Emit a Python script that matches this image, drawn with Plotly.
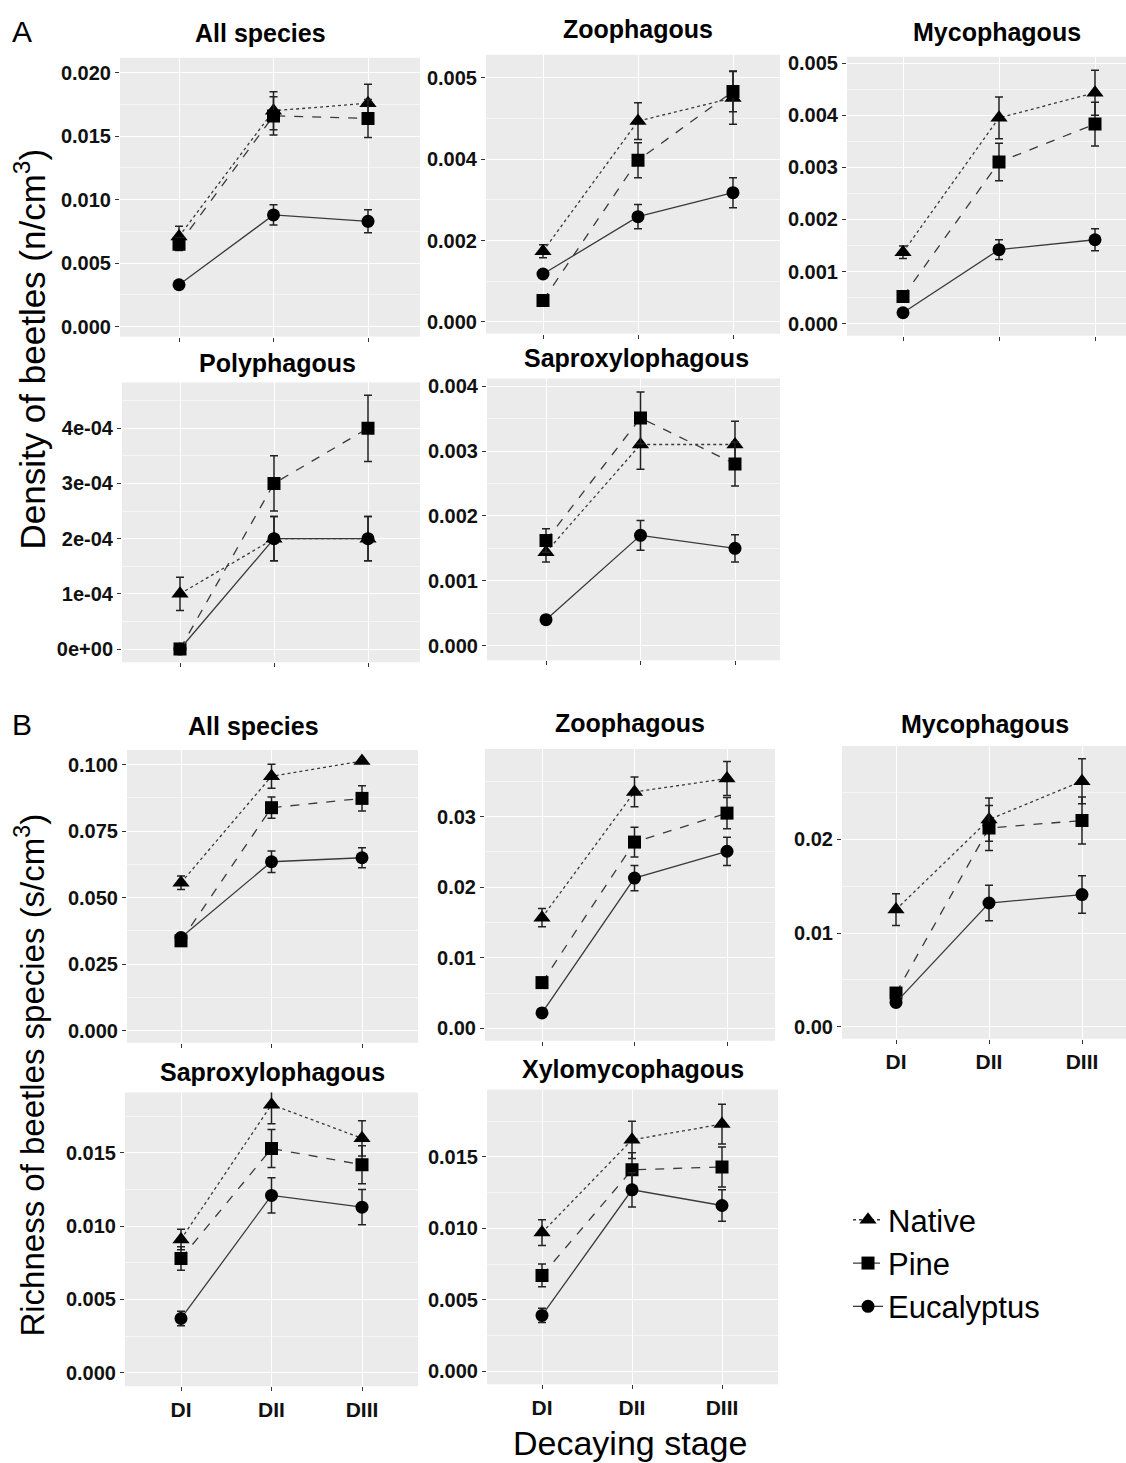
import plotly.graph_objects as go

W, H = 1126, 1463

stages = ["DI", "DII", "DIII"]
series_names = ["Native", "Pine", "Eucalyptus"]

# ---------------- A: density of beetles (n/cm3) ----------------
dA_all_native = [0.0071, 0.0170, 0.0176]
dA_all_native_err = [0.0008, 0.0015, 0.0015]
dA_all_pine = [0.0065, 0.0166, 0.0164]
dA_all_pine_err = [0.0005, 0.0015, 0.0015]
dA_all_euc = [0.0033, 0.0088, 0.0083]
dA_all_euc_err = [0.0002, 0.0008, 0.0009]

dA_zoo_native = [0.00174, 0.00494, 0.00551]
dA_zoo_native_err = [0.00016, 0.00045, 0.00065]
dA_zoo_pine = [0.00053, 0.00398, 0.00567]
dA_zoo_pine_err = [0.00003, 0.00043, 0.00050]
dA_zoo_euc = [0.00118, 0.00259, 0.00318]
dA_zoo_euc_err = [0.00006, 0.00030, 0.00037]

dA_myc_native = [0.00137, 0.00395, 0.00443]
dA_myc_native_err = [0.00012, 0.00040, 0.00043]
dA_myc_pine = [0.00052, 0.00310, 0.00383]
dA_myc_pine_err = [0.00004, 0.00036, 0.00042]
dA_myc_euc = [0.00021, 0.00142, 0.00161]
dA_myc_euc_err = [0.00003, 0.00019, 0.00021]

dA_pol_native = [1.0e-4, 2.0e-4, 2.0e-4]
dA_pol_native_err = [0.3e-4, 0.4e-4, 0.4e-4]
dA_pol_pine = [0.0, 3.0e-4, 4.0e-4]
dA_pol_pine_err = [0.0, 0.5e-4, 0.6e-4]
dA_pol_euc = [0.0, 2.0e-4, 2.0e-4]
dA_pol_euc_err = [0.0, 0.4e-4, 0.4e-4]

dA_sap_native = [0.00144, 0.00310, 0.00310]
dA_sap_native_err = [0.00015, 0.00038, 0.00036]
dA_sap_pine = [0.00162, 0.00351, 0.00280]
dA_sap_pine_err = [0.00018, 0.00040, 0.00034]
dA_sap_euc = [0.00040, 0.00170, 0.00150]
dA_sap_euc_err = [0.00003, 0.00023, 0.00021]

# ---------------- B: richness of beetle species (s/cm3) ----------------
rB_all_native = [0.0556, 0.0956, 0.1013]
rB_all_native_err = [0.0025, 0.0045, 0.0005]
rB_all_pine = [0.0338, 0.0838, 0.0873]
rB_all_pine_err = [0.0020, 0.0040, 0.0047]
rB_all_euc = [0.0350, 0.0635, 0.0650]
rB_all_euc_err = [0.0015, 0.0040, 0.0038]

rB_zoo_native = [0.0157, 0.0335, 0.0354]
rB_zoo_native_err = [0.0013, 0.0021, 0.0024]
rB_zoo_pine = [0.0065, 0.0264, 0.0305]
rB_zoo_pine_err = [0.0004, 0.0021, 0.0022]
rB_zoo_euc = [0.0022, 0.0213, 0.0251]
rB_zoo_euc_err = [0.0003, 0.0018, 0.0020]

rB_myc_native = [0.0125, 0.0221, 0.0262]
rB_myc_native_err = [0.0017, 0.0023, 0.0024]
rB_myc_pine = [0.0036, 0.0212, 0.0220]
rB_myc_pine_err = [0.0004, 0.0024, 0.0025]
rB_myc_euc = [0.0026, 0.0132, 0.0141]
rB_myc_euc_err = [0.0005, 0.0019, 0.0020]

rB_sap_native = [0.0091, 0.0183, 0.0160]
rB_sap_native_err = [0.0007, 0.0013, 0.0012]
rB_sap_pine = [0.0078, 0.0153, 0.0142]
rB_sap_pine_err = [0.0008, 0.0013, 0.0013]
rB_sap_euc = [0.0037, 0.0121, 0.0113]
rB_sap_euc_err = [0.0005, 0.0012, 0.0012]

rB_xyl_native = [0.0097, 0.0162, 0.0173]
rB_xyl_native_err = [0.0009, 0.0013, 0.0014]
rB_xyl_pine = [0.0067, 0.0141, 0.0143]
rB_xyl_pine_err = [0.0008, 0.0012, 0.0014]
rB_xyl_euc = [0.0039, 0.0127, 0.0116]
rB_xyl_euc_err = [0.0005, 0.0012, 0.0011]

# y tick values / labels
tv_A_all = [0, 0.005, 0.010, 0.015, 0.020]
tt_A_all = ["0.000", "0.005", "0.010", "0.015", "0.020"]
tv_A_zoo = [0, 0.002, 0.004, 0.006]
tt_A_zoo = ["0.000", "0.002", "0.004", "0.005"]
tv_A_myc = [0, 0.001, 0.002, 0.003, 0.004, 0.005]
tt_A_myc = ["0.000", "0.001", "0.002", "0.003", "0.004", "0.005"]
tv_A_pol = [0, 1e-4, 2e-4, 3e-4, 4e-4]
tt_A_pol = ["0e+00", "1e-04", "2e-04", "3e-04", "4e-04"]
tv_A_sap = [0, 0.001, 0.002, 0.003, 0.004]
tt_A_sap = ["0.000", "0.001", "0.002", "0.003", "0.004"]
tv_B_all = [0, 0.025, 0.050, 0.075, 0.100]
tt_B_all = ["0.000", "0.025", "0.050", "0.075", "0.100"]
tv_B_zoo = [0, 0.01, 0.02, 0.03]
tt_B_zoo = ["0.00", "0.01", "0.02", "0.03"]
tv_B_myc = [0, 0.01, 0.02]
tt_B_myc = ["0.00", "0.01", "0.02"]
tv_B_sap = [0, 0.005, 0.010, 0.015]
tt_B_sap = ["0.000", "0.005", "0.010", "0.015"]
tv_B_xyl = [0, 0.005, 0.010, 0.015]
tt_B_xyl = ["0.000", "0.005", "0.010", "0.015"]

titles = ["All species", "Zoophagous", "Mycophagous", "Polyphagous", "Saproxylophagous",
          "All species", "Zoophagous", "Mycophagous", "Saproxylophagous", "Xylomycophagous"]

panels_data = [
    ((dA_all_native, dA_all_native_err), (dA_all_pine, dA_all_pine_err), (dA_all_euc, dA_all_euc_err)),
    ((dA_zoo_native, dA_zoo_native_err), (dA_zoo_pine, dA_zoo_pine_err), (dA_zoo_euc, dA_zoo_euc_err)),
    ((dA_myc_native, dA_myc_native_err), (dA_myc_pine, dA_myc_pine_err), (dA_myc_euc, dA_myc_euc_err)),
    ((dA_pol_native, dA_pol_native_err), (dA_pol_pine, dA_pol_pine_err), (dA_pol_euc, dA_pol_euc_err)),
    ((dA_sap_native, dA_sap_native_err), (dA_sap_pine, dA_sap_pine_err), (dA_sap_euc, dA_sap_euc_err)),
    ((rB_all_native, rB_all_native_err), (rB_all_pine, rB_all_pine_err), (rB_all_euc, rB_all_euc_err)),
    ((rB_zoo_native, rB_zoo_native_err), (rB_zoo_pine, rB_zoo_pine_err), (rB_zoo_euc, rB_zoo_euc_err)),
    ((rB_myc_native, rB_myc_native_err), (rB_myc_pine, rB_myc_pine_err), (rB_myc_euc, rB_myc_euc_err)),
    ((rB_sap_native, rB_sap_native_err), (rB_sap_pine, rB_sap_pine_err), (rB_sap_euc, rB_sap_euc_err)),
    ((rB_xyl_native, rB_xyl_native_err), (rB_xyl_pine, rB_xyl_pine_err), (rB_xyl_euc, rB_xyl_euc_err)),
]

ticks = [(tv_A_all, tt_A_all), (tv_A_zoo, tt_A_zoo), (tv_A_myc, tt_A_myc), (tv_A_pol, tt_A_pol),
         (tv_A_sap, tt_A_sap), (tv_B_all, tt_B_all), (tv_B_zoo, tt_B_zoo), (tv_B_myc, tt_B_myc),
         (tv_B_sap, tt_B_sap), (tv_B_xyl, tt_B_xyl)]

# ---------------- layout geometry (pixels) ----------------
# left, right, top, bottom of panel, x of DI, x of DIII, y pixel of 0, y pixel of top tick
geom = [
    (120, 420, 53, 333, 179, 368, 323.0, 68.0),
    (486, 780, 50, 330, 543, 733, 318.3, 73.3),
    (847, 1126, 52, 332, 903, 1095, 320.0, 58.3),
    (122, 420, 379, 660, 180, 368, 646.7, 425.0),
    (487, 780, 375, 658, 546, 735, 643.3, 382.7),
    (127, 418, 748, 1042, 181, 362, 1030.0, 762.7),
    (485, 775, 747, 1040, 542, 727, 1027.7, 815.0),
    (842, 1126, 744, 1038, 896, 1082, 1026.0, 837.7),
    (125, 418, 1092, 1387, 181, 362, 1373.3, 1152.7),
    (487, 778, 1089, 1385, 542, 722, 1371.7, 1156.7),
]
minor_steps = [0.0025, 0.001, 0.0005, 0.5e-4, 0.0005, 0.0125, 0.005, 0.005, 0.0025, 0.0025]
show_xlabels = [False, False, False, False, False, False, False, True, True, True]
title_pos = [(260, 28), (638, 24), (997, 27), (277, 359), (636, 354),
             (253, 724), (630, 721), (985, 722), (272, 1071), (633, 1068)]

symbols = ["triangle-up", "square", "circle"]
msizes = [15, 13, 13]
dashes = ["dot", "dash", "solid"]

FONT = "Liberation Sans, Arial, sans-serif"

fig = go.Figure()
layout = {}
annotations = []

for i, (pdata, (tv, tt), g) in enumerate(zip(panels_data, ticks, geom)):
    left, right, top, bottom, xd1, xd3, p0, ptop = g
    n = i + 1
    xa = "xaxis" if n == 1 else f"xaxis{n}"
    ya = "yaxis" if n == 1 else f"yaxis{n}"
    xref = "x" if n == 1 else f"x{n}"
    yref = "y" if n == 1 else f"y{n}"
    s = (xd3 - xd1) / 2.0
    xr = [-(xd1 - left) / s, 2 + (right - xd3) / s]
    vtop = tv[-1]
    scale = (p0 - ptop) / vtop
    yr = [-(bottom - p0) / scale, (p0 - top) / scale]

    layout[xa] = dict(
        domain=[left / W, right / W], anchor=yref, type="category",
        categoryorder="array", categoryarray=stages, range=xr,
        showgrid=True, gridcolor="white", gridwidth=1.2, zeroline=False,
        ticks="outside", ticklen=4, tickcolor="#333333", tickwidth=1,
        showticklabels=show_xlabels[i],
        tickfont=dict(family=FONT, size=21, color="#111111", weight="bold"),
        showline=False, fixedrange=True,
    )
    layout[ya] = dict(
        domain=[1 - bottom / H, 1 - top / H], anchor=xref, range=yr,
        tickmode="array", tickvals=tv, ticktext=tt,
        showgrid=True, gridcolor="white", gridwidth=1.2, zeroline=False,
        ticks="outside", ticklen=4, tickcolor="#333333", tickwidth=1,
        tickfont=dict(family=FONT, size=20, color="#111111", weight="bold"),
        minor=dict(tickmode="linear", tick0=0, dtick=minor_steps[i], showgrid=True,
                   gridcolor="#f6f6f6", gridwidth=0.6),
        showline=False, fixedrange=True,
    )
    for k, (vals, errs) in enumerate(pdata):
        fig.add_trace(go.Scatter(
            x=stages, y=vals, xaxis=xref, yaxis=yref,
            mode="lines+markers", name=series_names[k],
            legendgroup=series_names[k], showlegend=(i == 0),
            line=dict(color="#3a3a3a", width=1.3, dash=dashes[k]),
            marker=dict(symbol=symbols[k], size=msizes[k], color="black"),
            error_y=dict(type="data", array=errs, visible=True,
                         color="#222222", thickness=1.5, width=4),
        ))
    tx, ty = title_pos[i]
    annotations.append(dict(text=f"<b>{titles[i]}</b>", x=tx / W, y=1 - ty / H,
                            xref="paper", yref="paper", xanchor="center", yanchor="middle",
                            showarrow=False, font=dict(family=FONT, size=25, color="black")))

# panel letters and axis titles
annotations += [
    dict(text="A", x=22 / W, y=1 - 27 / H, xref="paper", yref="paper", showarrow=False,
         xanchor="center", yanchor="middle", font=dict(family=FONT, size=30, color="black")),
    dict(text="B", x=22 / W, y=1 - 722 / H, xref="paper", yref="paper", showarrow=False,
         xanchor="center", yanchor="middle", font=dict(family=FONT, size=30, color="black")),
    dict(text="Density of beetles (n/cm<sup>3</sup>)", x=30 / W, y=1 - 346 / H,
         xref="paper", yref="paper", showarrow=False, textangle=-90,
         xanchor="center", yanchor="middle", font=dict(family=FONT, size=35, color="black")),
    dict(text="Richness of beetles species (s/cm<sup>3</sup>)", x=30 / W, y=1 - 1075 / H,
         xref="paper", yref="paper", showarrow=False, textangle=-90,
         xanchor="center", yanchor="middle", font=dict(family=FONT, size=33, color="black")),
    dict(text="Decaying stage", x=630 / W, y=1 - 1444 / H, xref="paper", yref="paper",
         showarrow=False, xanchor="center", yanchor="middle",
         font=dict(family=FONT, size=34, color="black")),
]

fig.update_layout(
    width=W, height=H, autosize=False,
    margin=dict(l=0, r=0, t=0, b=0, pad=0),
    paper_bgcolor="white", plot_bgcolor="#EBEBEB",
    font=dict(family=FONT, color="black"),
    annotations=annotations,
    showlegend=True,
    legend=dict(x=848 / W, y=1 - 1193 / H, xanchor="left", yanchor="top",
                bgcolor="rgba(0,0,0,0)", font=dict(family=FONT, size=31, color="black"),
                itemwidth=30, tracegroupgap=0),
    **layout,
)

fig.write_html("out.html", config={"displayModeBar": False},
               post_script="document.body.style.margin='0px';document.body.style.overflow='hidden';")
